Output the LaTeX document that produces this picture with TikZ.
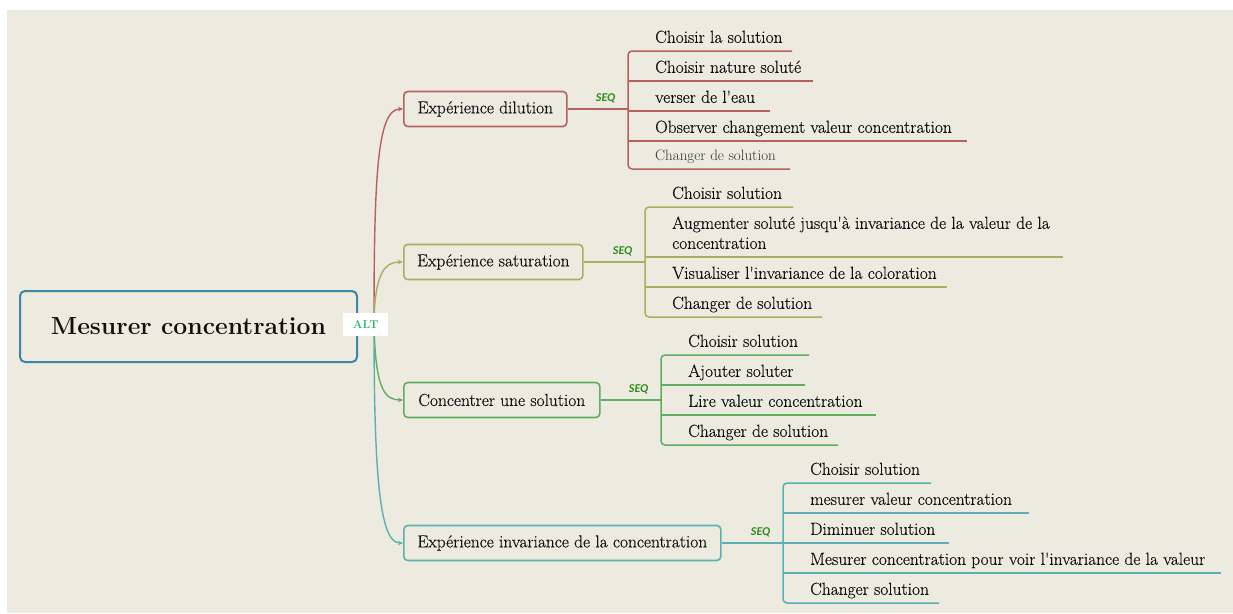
\documentclass[tikz,border=0pt]{standalone}
\usepackage{fontspec}
\setmainfont{Latin Modern Roman}
\newfontfamily\leaffont{Latin Modern Roman}[FakeBold=0.35]
\newfontfamily\seqfont{Carlito}
\usetikzlibrary{arrows.meta,calc}

\definecolor{bg}{HTML}{EDEAE0}
\definecolor{rootc}{HTML}{3B87A6}
\definecolor{dilc}{HTML}{B7615F}
\definecolor{satc}{HTML}{ABAE5F}
\definecolor{conc}{HTML}{5FAF5F}
\definecolor{invc}{HTML}{5BB0B1}
\definecolor{seqc}{HTML}{2E8B1E}
\definecolor{altc}{HTML}{34B36B}
\definecolor{txt}{HTML}{101010}
\definecolor{txtgray}{HTML}{333333}

\tikzset{
  rootbox/.style={draw=rootc, line width=2pt, rounded corners=5pt,
    minimum width=337pt, minimum height=71pt, text=txt,
    font=\fontsize{24.7}{28}\selectfont\bfseries},
  l1box/.style={line width=1.6pt, rounded corners=4pt, anchor=west,
    minimum height=35pt, inner xsep=0pt, text=txt,
    font=\fontsize{17.4}{20}\leaffont},
  leaf/.style={anchor=south west, inner sep=0pt, text depth=0pt, align=left,
    text=txt, font=\fontsize{17.4}{20}\leaffont},
  leafsmall/.style={leaf, text=txtgray, font=\fontsize{15}{18}\selectfont},
  branch/.style={line width=1.5pt},
  curve/.style={line width=1.4pt, -{Stealth[length=5pt,width=4.5pt]}},
  seq/.style={inner sep=0pt, text=seqc, font=\fontsize{12}{14}\seqfont\bfseries\itshape},
  altbox/.style={fill=white, inner sep=0pt, minimum width=45pt, minimum height=23pt,
    text=altc, font=\fontsize{11.5}{12}\selectfont\bfseries}
}

\begin{document}
\begin{tikzpicture}[x=1pt,y=-1pt]
  % canvas
  \fill[white] (0,0) rectangle (1233,613);
  \fill[bg] (7,10) rectangle (1233,613);
  \useasboundingbox (0,0) rectangle (1233,613);

  % central topic
  \node[rootbox] (root) at (188.5,326.5) {Mesurer concentration};
  \coordinate (hub) at (374,322);

  % main branches
  \node[l1box, draw=dilc, minimum width=163pt] (dil) at (403,109) {Expérience dilution};
  \node[l1box, draw=satc, minimum width=179pt] (sat) at (403,262) {Expérience saturation};
  \node[l1box, draw=conc, minimum width=196pt] (con) at (403,400) {Concentrer une solution};
  \node[l1box, draw=invc, minimum width=317pt] (inv) at (403,543) {Expérience invariance de la concentration};

  \draw[curve, dilc] (hub) .. controls (374,170) and (378,109) .. (dil.west);
  \draw[curve, satc] (hub) .. controls (375,272) and (385,262) .. (sat.west);
  \draw[curve, conc] (hub) .. controls (375,390) and (385,400) .. (con.west);
  \draw[curve, invc] (hub) .. controls (374,480) and (380,543) .. (inv.west);

  \node[altbox] (alt) at (365.5,324) {ALT};

  % --- Expérience dilution
  \node[leaf] (d1) at (655,43) {Choisir la solution};
  \node[leaf] (d2) at (655,73) {Choisir nature soluté};
  \node[leaf] (d3) at (655,103) {verser de l'eau};
  \node[leaf] (d4) at (655,133) {Observer changement valeur concentration};
  \node[leafsmall] (d5) at (655,161) {Changer de solution};
  \coordinate (dv) at ($(d1.south west)+(-27,0)$);
  \draw[branch, dilc] (dil.east) -- (dil.east -| dv);
  \draw[branch, dilc, rounded corners=4pt] ($(d1.south west)+(137,8)$) -- ($(d1.south west)+(-27,8)$)
    -- ($(d5.south west)+(-27,8)$) -- ($(d5.south west)+(135,8)$);
  \draw[branch, dilc] ($(d2.south west)+(-27,8)$) -- ($(d2.south west)+(158,8)$);
  \draw[branch, dilc] ($(d3.south west)+(-27,8)$) -- ($(d3.south west)+(115,8)$);
  \draw[branch, dilc] ($(d4.south west)+(-27,8)$) -- ($(d4.south west)+(312,8)$);
  \node[seq] (dseq) at ($(dil.east)+(38,-11)$) {SEQ};

  % --- Expérience saturation
  \node[leaf] (s1) at (672,199) {Choisir solution};
  \node[leaf] (s2) at (672,249) {Augmenter soluté jusqu'à invariance de la valeur de la\\concentration};
  \node[leaf] (s3) at (672,279) {Visualiser l'invariance de la coloration};
  \node[leaf] (s4) at (672,309) {Changer de solution};
  \coordinate (sv) at ($(s1.south west)+(-27,0)$);
  \draw[branch, satc] (sat.east) -- (sat.east -| sv);
  \draw[branch, satc, rounded corners=4pt] ($(s1.south west)+(121,8)$) -- ($(s1.south west)+(-27,8)$)
    -- ($(s4.south west)+(-27,8)$) -- ($(s4.south west)+(150,8)$);
  \draw[branch, satc] ($(s2.south west)+(-27,8)$) -- ($(s2.south west)+(391,8)$);
  \draw[branch, satc] ($(s3.south west)+(-27,8)$) -- ($(s3.south west)+(275,8)$);
  \node[seq] (sseq) at ($(sat.east)+(39,-11)$) {SEQ};

  % --- Concentrer une solution
  \node[leaf] (c1) at (688,347) {Choisir solution};
  \node[leaf] (c2) at (688,377) {Ajouter soluter};
  \node[leaf] (c3) at (688,407) {Lire valeur concentration};
  \node[leaf] (c4) at (688,437) {Changer de solution};
  \coordinate (cv) at ($(c1.south west)+(-27,0)$);
  \draw[branch, conc] (con.east) -- (con.east -| cv);
  \draw[branch, conc, rounded corners=4pt] ($(c1.south west)+(121,8)$) -- ($(c1.south west)+(-27,8)$)
    -- ($(c4.south west)+(-27,8)$) -- ($(c4.south west)+(150,8)$);
  \draw[branch, conc] ($(c2.south west)+(-27,8)$) -- ($(c2.south west)+(117,8)$);
  \draw[branch, conc] ($(c3.south west)+(-27,8)$) -- ($(c3.south west)+(188,8)$);
  \node[seq] (cseq) at ($(con.east)+(38,-11)$) {SEQ};

  % --- Expérience invariance de la concentration
  \node[leaf] (i1) at (810,475) {Choisir solution};
  \node[leaf] (i2) at (810,505) {mesurer valeur concentration};
  \node[leaf] (i3) at (810,535) {Diminuer solution};
  \node[leaf] (i4) at (810,565) {Mesurer concentration pour voir l'invariance de la valeur};
  \node[leaf] (i5) at (810,595) {Changer solution};
  \coordinate (iv) at ($(i1.south west)+(-27,0)$);
  \draw[branch, invc] (inv.east) -- (inv.east -| iv);
  \draw[branch, invc, rounded corners=4pt] ($(i1.south west)+(121,8)$) -- ($(i1.south west)+(-27,8)$)
    -- ($(i5.south west)+(-27,8)$) -- ($(i5.south west)+(129,8)$);
  \draw[branch, invc] ($(i2.south west)+(-27,8)$) -- ($(i2.south west)+(219,8)$);
  \draw[branch, invc] ($(i3.south west)+(-27,8)$) -- ($(i3.south west)+(139,8)$);
  \draw[branch, invc] ($(i4.south west)+(-27,8)$) -- ($(i4.south west)+(411,8)$);
  \node[seq] (iseq) at ($(inv.east)+(39,-11)$) {SEQ};
\end{tikzpicture}
\end{document}
